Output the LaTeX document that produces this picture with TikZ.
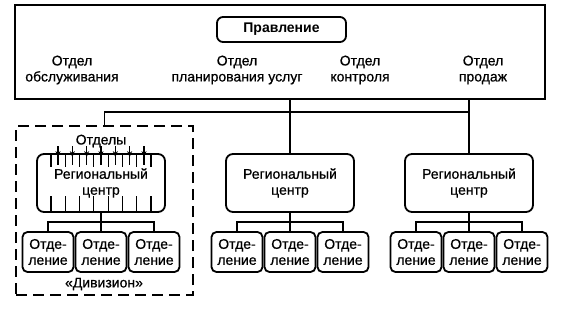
\documentclass[tikz,border=0pt]{standalone}
\usepackage{fontspec}
\setmainfont{Liberation Sans}
\newfontfamily\medfont{Liberation Sans}[FakeBold=0.7]
\usepackage{tikz}
\usetikzlibrary{arrows.meta,calc}

\begin{document}
\begin{tikzpicture}[x=1pt, y=-1pt,
  txt/.style={font=\fontsize{14}{16}\medfont, align=center, inner sep=0pt},
  board/.style={rectangle, draw, line width=2pt, minimum width=530pt, minimum height=94pt},
  headbox/.style={rectangle, rounded corners=6pt, draw, line width=1.8pt,
                  minimum width=129pt, minimum height=25pt, inner sep=0pt,
                  font=\fontsize{14}{16}\selectfont\bfseries},
  rcbox/.style={txt, rectangle, rounded corners=7pt, draw, line width=1.8pt,
                minimum width=128pt, minimum height=58pt},
  subbox/.style={txt, rectangle, rounded corners=5pt, draw, line width=1.8pt,
                 minimum width=51pt, minimum height=40pt},
  divbox/.style={rectangle, draw, line width=1.8pt, dash pattern=on 11pt off 6pt,
                 minimum width=177pt, minimum height=169pt},
  link/.style={line width=1.8pt},
  tick/.style={line width=1.1pt},
  tickarr/.style={line width=1.1pt, -{Stealth[length=6pt, width=5pt]}}
]
\useasboundingbox (0,0) rectangle (563,309);

%% management
\node[board]   (board) at (280,52)     {};
\node[headbox] (head)  at (281.5,29.5) {Правление};
\node[txt] (d1) at (72,70)  {Отдел\\обслуживания};
\node[txt] (d2) at (237,70) {Отдел\\планирования услуг};
\node[txt] (d3) at (360,70) {Отдел\\контроля};
\node[txt] (d4) at (483,70) {Отдел\\продаж};

%% division
\node[divbox] (div)    at (104.5,210.5) {};
\node[txt]    (deps)   at (101,141)     {Отделы};
\node[txt]    (divlbl) at (104,284)     {«Дивизион»};

%% regional centres
\node[rcbox] (rc1) at (101,183) {Региональный\\центр};
\node[rcbox] (rc2) at (290,183) {Региональный\\центр};
\node[rcbox] (rc3) at (469,183) {Региональный\\центр};

%% branches
\foreach \g in {1,2,3} {
  \node[subbox] (s\g-1) at ($(rc\g.center)+(-53,69)$) {Отде-\\ление};
  \node[subbox] (s\g-2) at ($(rc\g.center)+(0,69)$)   {Отде-\\ление};
  \node[subbox] (s\g-3) at ($(rc\g.center)+(53,69)$)  {Отде-\\ление};
  \draw[link] (rc\g.south) -- (s\g-2.north);
  \draw[link] (s\g-1.north) -- ++(0,-9) -| (s\g-3.north);
}

%% links to management
\coordinate (bus) at (0,112);
\draw[link] (board.south -| rc2.north) -- (rc2.north);
\draw[link] (board.south -| rc3.north) -- (rc3.north);
\draw[link] (div.north) |- (bus -| rc3.north);

%% department ticks
\foreach \i in {0,...,7} {
  \draw[tick] ($(rc1.north)+(-50+14.29*\i,0)$) -- ++(0,14);
  \draw[tick] ($(rc1.south)+(-50+14.29*\i,0)$) -- ++(0,-17);
}
\foreach \i in {0,...,6} {
  \draw[tickarr] ($(rc1.north)+(-43+14.33*\i,-7)$) -- ++(0,11);
  \draw[tick]    ($(rc1.north)+(-43+14.33*\i,0)$)  -- ++(0,12);
}
\end{tikzpicture}
\end{document}
